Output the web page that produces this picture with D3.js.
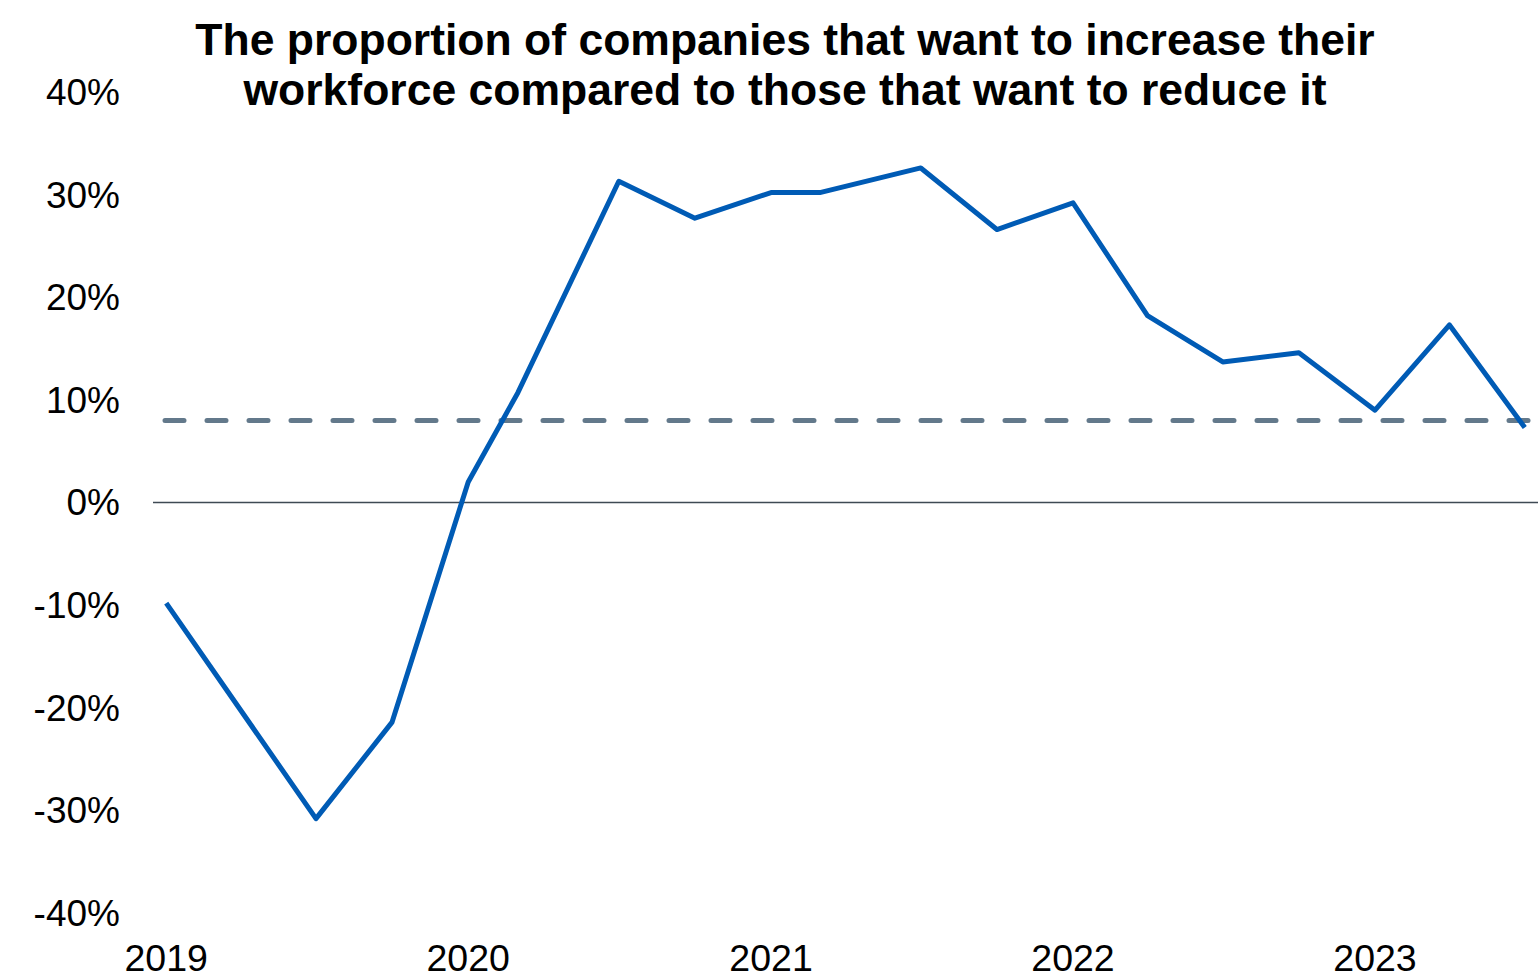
<!DOCTYPE html>
<html lang="en">
<head>
    <meta charset="UTF-8">
    <title>Workforce balance</title>
    <style>
        body { margin: 0; background: #fff; }
        text { font-family: "Liberation Sans", Arial, sans-serif; }
    </style>
</head>
<body>
<script src="https://d3js.org/d3.v7.min.js"></script>
<script>
    const w = 1538, h = 978;

    // data
    const dates = ["2019-01-01", "2019-07-01", "2019-10-01", "2020-01-01", "2020-03-01",
        "2020-07-01", "2020-10-01", "2021-01-01", "2021-03-01", "2021-07-01", "2021-10-01",
        "2022-01-01", "2022-04-01", "2022-07-01", "2022-10-01", "2023-01-01", "2023-04-01", "2023-07-01"];
    const balance = [-9.8, -30.8, -21.4, 2.0, 10.7, 31.3, 27.7, 30.2, 30.2, 32.6, 26.6,
        29.2, 18.2, 13.7, 14.6, 9.0, 17.3, 7.3];
    const average = 8.0;
    const yTicks = [-40, -30, -20, -10, 0, 10, 20, 30, 40];
    const titleLines = ["The proportion of companies that want to increase their",
        "workforce compared to those that want to reduce it"];

    const parse = d3.timeParse("%Y-%m-%d");
    const points = dates.map((d, i) => ({date: parse(d), v: balance[i]}));

    const svg = d3.select("body").append("svg")
        .attr("width", w)
        .attr("height", h);

    const x = d3.scaleTime()
        .domain([new Date(2018, 11, 16), new Date(2023, 6, 17)])
        .range([153, 1538]);

    const y = d3.scaleLinear()
        .domain([-40, 40])
        .range([913, 92]);

    // y tick labels
    svg.append("g")
        .selectAll("text")
        .data(yTicks)
        .enter()
        .append("text")
        .attr("x", 120)
        .attr("y", d => y(d))
        .attr("dy", "0.35em")
        .attr("text-anchor", "end")
        .style("font-size", "37px")
        .style("fill", "#000")
        .text(d => d + "%");

    // x tick labels
    svg.append("g")
        .selectAll("text")
        .data(x.ticks(d3.timeYear.every(1)).filter(d => d.getFullYear() >= 2019))
        .enter()
        .append("text")
        .attr("x", d => x(d))
        .attr("y", 971)
        .attr("text-anchor", "middle")
        .style("font-size", "37.5px")
        .style("fill", "#000")
        .text(d3.timeFormat("%Y"));

    // zero line
    svg.append("line")
        .attr("x1", x.range()[0])
        .attr("x2", x.range()[1])
        .attr("y1", y(0))
        .attr("y2", y(0))
        .attr("stroke", "#3f4a54")
        .attr("stroke-width", 1.5);

    // average (dashed)
    svg.append("line")
        .attr("x1", x.range()[0] + 12)
        .attr("x2", x.range()[1] - 10)
        .attr("y1", y(average))
        .attr("y2", y(average))
        .attr("stroke", "#63798b")
        .attr("stroke-width", 5)
        .attr("stroke-linecap", "round")
        .attr("stroke-dasharray", "19,23");

    const line = d3.line()
        .x(d => x(d.date))
        .y(d => y(d.v));

    svg.append("path")
        .datum(points)
        .attr("d", line)
        .attr("fill", "none")
        .attr("stroke", "#005bb5")
        .attr("stroke-width", 5)
        .attr("stroke-linejoin", "round");

    // title
    svg.append("g")
        .selectAll("text")
        .data(titleLines)
        .enter()
        .append("text")
        .attr("x", 785)
        .attr("y", (d, i) => 55 + i * 50)
        .attr("text-anchor", "middle")
        .style("font-size", "44.5px")
        .style("font-weight", "bold")
        .style("fill", "#000")
        .text(d => d);
</script>
</body>
</html>
